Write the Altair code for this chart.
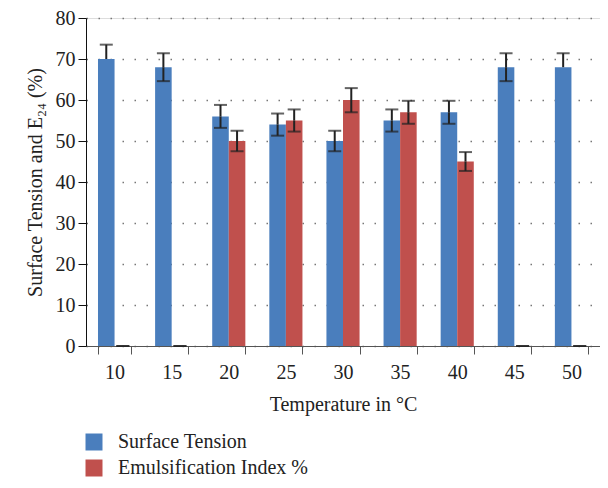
import altair as alt
import pandas as pd

temps = ["10", "15", "20", "25", "30", "35", "40", "45", "50"]
surface = [70, 68, 56, 54, 50, 55, 57, 68, 68]
surface_hi = [73.5, 71.4, 58.8, 56.7, 52.5, 57.7, 59.8, 71.4, 71.4]
surface_lo = [None, 64.6, 53.2, 51.3, 47.5, 52.3, 54.2, 64.6, None]
emuls = [0, 0, 50, 55, 60, 57, 45, 0, 0]
emuls_hi = [0, 0, 52.5, 57.7, 62.9, 59.8, 47.3, 0, 0]
emuls_lo = [0, 0, 47.5, 52.3, 57.0, 54.2, 42.7, 0, 0]
series = ["Surface Tension", "Emulsification Index %"]
colors = ["#4a7ebd", "#c0504d"]

rows = []
for i, t in enumerate(temps):
    rows.append(dict(temp=t, series=series[0], value=surface[i], hi=surface_hi[i], lo=surface_lo[i]))
    rows.append(dict(temp=t, series=series[1], value=emuls[i], hi=emuls_hi[i], lo=emuls_lo[i]))
df = pd.DataFrame(rows)

FONT = "Liberation Serif"
x = alt.X("temp:N", sort=temps, title="Temperature in °C",
          scale=alt.Scale(paddingInner=0.42, paddingOuter=0.21),
          axis=alt.Axis(labelAngle=0, tickBand="extent", tickSize=8, tickColor="#555",
                        domainColor="#555", labelFontSize=20, titleFontSize=20,
                        labelPadding=8, titlePadding=12, labelColor="#222", titleColor="#222",
                        titleFontWeight="normal", labelFont=FONT, titleFont=FONT))
xo = alt.XOffset("series:N", sort=series, scale=alt.Scale(paddingInner=0, domain=series))

base = alt.Chart(df)

bars = base.mark_bar().encode(
    x=x, xOffset=xo,
    y=alt.Y("value:Q", title="Surface Tension and E₂₄ (%)",
            scale=alt.Scale(domain=[0, 80], nice=False),
            axis=alt.Axis(values=list(range(0, 81, 10)), tickSize=8, tickColor="#111",
                          domainColor="#111", labelFontSize=20, titleFontSize=20,
                          labelColor="#222", titleColor="#222", titleFontWeight="normal",
                          labelFont=FONT, titleFont=FONT, labelPadding=3, titlePadding=10,
                          grid=True, gridColor="#777", gridDash=[1.5, 10.5], gridWidth=1.5)),
    color=alt.Color("series:N", sort=series,
                    scale=alt.Scale(domain=series, range=colors),
                    legend=alt.Legend(title=None, orient="none", legendX=-2, legendY=414,
                                      symbolType="square", symbolSize=289, symbolStrokeWidth=0,
                                      labelFontSize=20, labelFont=FONT, labelColor="#222",
                                      labelLimit=400, labelOffset=14, rowPadding=6, padding=0)),
)

stem = base.mark_rule(color="#222", strokeWidth=2).encode(
    x=x, xOffset=xo, y="hi:Q", y2="value:Q")
stem_lo = base.transform_filter("datum.lo != null").mark_rule(color="#222", strokeWidth=2).encode(
    x=x, xOffset=xo, y="lo:Q", y2="value:Q")
cap_hi = base.mark_tick(color="#222", thickness=2, size=13, orient="horizontal").encode(
    x=x, xOffset=xo, y="hi:Q")
cap_lo = base.transform_filter("datum.lo != null").mark_tick(
    color="#222", thickness=2, size=13, orient="horizontal").encode(
    x=x, xOffset=xo, y="lo:Q")

chart = alt.layer(bars, stem, stem_lo, cap_hi, cap_lo).properties(
    width=514, height=328,
    autosize=alt.AutoSizeParams(type="none"),
    padding={"left": 78, "top": 10, "right": 0, "bottom": 134},
).configure_view(stroke=None).configure(font=FONT)

chart.save("out.html", embed_options={"renderer": "svg", "actions": False})
